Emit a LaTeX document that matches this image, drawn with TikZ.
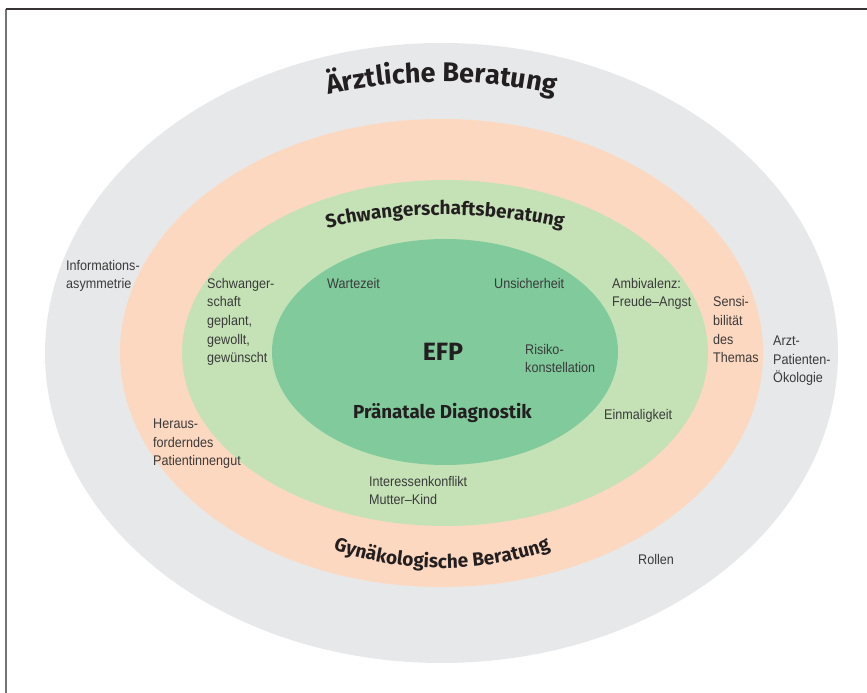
\documentclass[tikz,border=0pt]{standalone}
\usepackage{fontspec}
\usetikzlibrary{decorations.text}
\newfontfamily\labelfont[FakeStretch=0.9]{Liberation Sans}
\newfontfamily\titlefont{Fira Sans}
\definecolor{ringgray}{HTML}{E7E8E9}
\definecolor{ringpeach}{HTML}{FDD8C0}
\definecolor{ringlight}{HTML}{C5E2B6}
\definecolor{ringdark}{HTML}{80CA9C}
\definecolor{labelcol}{HTML}{3A3A3A}
\definecolor{titlecol}{HTML}{231F20}
\newcommand\TitleA{\titlefont\bfseries\fontsize{27}{30}\selectfont}
\newcommand\TitleB{\titlefont\bfseries\fontsize{19}{21}\selectfont}
\newcommand\TitleC{\titlefont\bfseries\fontsize{19}{21}\selectfont}
\tikzset{
  lbl/.style={anchor=base west, align=left, inner sep=0pt, text=labelcol,
    font=\labelfont\fontsize{14}{18.7}\selectfont},
  ttl/.style={anchor=base, inner sep=0pt, text=titlecol},
}
\begin{document}
\begin{tikzpicture}[x=1pt,y=1pt]
\useasboundingbox (0,0) rectangle (867,693);
% frame
\coordinate (fc) at (6,683.5);
\coordinate (fr) at (867,683.5);
\coordinate (fb) at (6,0);
\draw[line width=1.2pt, draw=labelcol!70] (fc) -- (fb);
\draw[line width=2pt, draw=titlecol!90] (fc) -- (fr);
% rings
\fill[ringgray] (441.5,340) ellipse [x radius=396.5, y radius=310];
\fill[ringpeach] (441.5,340) ellipse [x radius=321.5, y radius=234];
\fill[ringlight] (445,340) ellipse [x radius=263, y radius=173];
\fill[ringdark] (445,341) ellipse [x radius=173, y radius=113];
% curved titles
\path[decorate, decoration={text along path, text align=center,
  text={|\TitleA\color{titlecol}|Ärztliche Beratung}}]
  (441.5,338) ++(160:379 and 273) arc[start angle=160, end angle=20, x radius=379, y radius=273];
\path[decorate, decoration={text along path, text align=center,
  text={|\TitleB\color{titlecol}|Schwangerschaftsberatung}}]
  (445,340) ++(155:276 and 138) arc[start angle=155, end angle=25, x radius=276, y radius=138];
\path[decorate, decoration={text along path, text align=center,
  text={|\TitleC\color{titlecol}|Gynäkologische Beratung}}]
  (442,340) ++(205:268 and 215) arc[start angle=205, end angle=335, x radius=268, y radius=215];
% centre
\node[ttl, font=\titlefont\bfseries\fontsize{25}{28}\selectfont] (efp) at (443,332) {EFP};
\node[ttl, font=\titlefont\bfseries\fontsize{18.8}{20}\selectfont] (pnd) at (442.5,274) {Pränatale Diagnostik};
% labels (anchor = baseline of last line)
\node[lbl] (info) at (66,404) {Informations-\\asymmetrie};
\node[lbl] (schw) at (207,330) {Schwanger-\\schaft\\geplant,\\gewollt,\\gewünscht};
\node[lbl] (herau) at (153,227) {Heraus-\\forderndes\\Patientinnengut};
\node[lbl] (wart) at (327,404) {Wartezeit};
\node[lbl] (unsi) at (494,404) {Unsicherheit};
\node[lbl] (risk) at (525,320) {Risiko-\\konstellation};
\node[lbl] (ambi) at (612,386) {Ambivalenz:\\Freude–Angst};
\node[lbl] (sens) at (713,330) {Sensi-\\bilität\\des\\Themas};
\node[lbl] (arzt) at (773,310) {Arzt-\\Patienten-\\Ökologie};
\node[lbl] (einm) at (604,273) {Einmaligkeit};
\node[lbl] (inte) at (369,188) {Interessenkonflikt\\Mutter–Kind};
\node[lbl] (roll) at (638,128) {Rollen};
\end{tikzpicture}
\end{document}
